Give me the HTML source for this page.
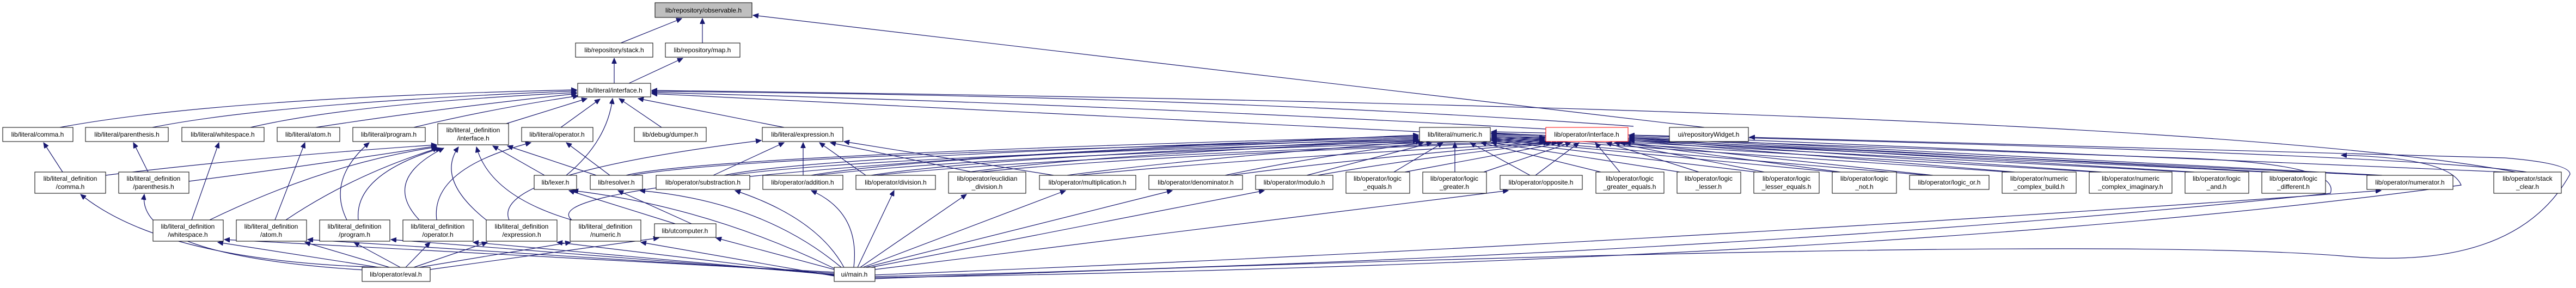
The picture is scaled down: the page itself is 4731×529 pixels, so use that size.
<!DOCTYPE html>
<html><head><meta charset="utf-8"><style>
html,body{margin:0;padding:0;background:#fff;}
svg{display:block}
text{font-family:"Liberation Sans",sans-serif;font-size:12px;fill:#000;text-anchor:middle}
.n{fill:#fff;stroke:#000;stroke-width:1}
.e{fill:none;stroke:#191970;stroke-width:1.2}
</style></head><body>
<svg width="4731" height="529" viewBox="0 0 4731 529" xmlns="http://www.w3.org/2000/svg">
<defs><marker id="a" markerUnits="userSpaceOnUse" markerWidth="11" markerHeight="9" refX="10" refY="4.5" orient="auto"><path d="M0,0 L10,4.5 L0,9 z" fill="#191970" stroke="#191970"/></marker></defs>
<g class="e" marker-end="url(#a)">
<path d="M1140,79 L1252,34"/>
<path d="M1290,79 L1290,34"/>
<path d="M3130,234 L1383,28"/>
<path d="M1128,153 L1128,107"/>
<path d="M1155,153 L1254,107"/>
<path d="M110,234 Q400,180 1059,165"/>
<path d="M280,234 Q500,190 1059,167"/>
<path d="M460,234 Q650,190 1059,170"/>
<path d="M580,234 Q800,200 1059,172"/>
<path d="M760,234 Q900,200 1062,176"/>
<path d="M930,227 L1078,181"/>
<path d="M1030,234 L1102,182"/>
<path d="M1215,234 L1137,181"/>
<path d="M1440,234 L1172,181"/>
<path d="M1040,322 Q1115,260 1125,181"/>
<path d="M2607,242 L1197,172"/>
<path d="M2839,237 Q2000,190 1197,170"/>
<path d="M3000,232 Q2200,175 1197,168"/>
<path d="M4620,316 Q4000,200 1197,166"/>
<path d="M115,316 L80,262"/>
<path d="M272,316 L245,262"/>
<path d="M352,404 L402,262"/>
<path d="M505,404 L560,262"/>
<path d="M637,404 Q600,330 678,262"/>
<path d="M194,322 Q450,290 802,266"/>
<path d="M347,333 Q600,300 802,268"/>
<path d="M385,404 Q600,300 802,270"/>
<path d="M525,404 Q650,320 805,272"/>
<path d="M658,404 Q650,320 810,272"/>
<path d="M770,404 Q700,330 815,272"/>
<path d="M893,404 Q800,330 842,270"/>
<path d="M1050,404 Q900,360 875,270"/>
<path d="M1000,322 L905,268"/>
<path d="M1095,322 L932,268"/>
<path d="M802,404 Q790,310 975,262"/>
<path d="M1120,322 L1040,262"/>
<path d="M935,404 Q900,320 1398,258"/>
<path d="M1050,404 Q950,320 2605,248"/>
<path d="M1150,322 Q1300,285 2605,250"/>
<path d="M1160,322 Q1400,280 2837,252"/>
<path d="M1310,322 L1440,262"/>
<path d="M1330,322 Q1500,285 2605,252"/>
<path d="M1340,322 Q1600,285 2837,254"/>
<path d="M1475,322 L1475,262"/>
<path d="M1490,322 Q1700,285 2605,254"/>
<path d="M1500,322 Q1800,285 2837,256"/>
<path d="M1590,322 L1505,262"/>
<path d="M1600,322 Q1800,290 2605,256"/>
<path d="M1610,322 Q1900,290 2837,258"/>
<path d="M1785,316 L1525,262"/>
<path d="M1780,316 Q2000,285 2605,258"/>
<path d="M1800,316 Q2100,285 2840,260"/>
<path d="M1935,322 L1550,260"/>
<path d="M1960,322 Q2200,290 2610,260"/>
<path d="M1980,322 Q2300,290 2845,262"/>
<path d="M2250,322 Q2400,290 2615,262"/>
<path d="M2260,322 Q2500,290 2850,262"/>
<path d="M2400,322 L2630,262"/>
<path d="M2420,322 Q2600,290 2860,262"/>
<path d="M2560,316 L2650,262"/>
<path d="M2580,316 L2870,262"/>
<path d="M2672,316 L2672,262"/>
<path d="M2725,316 L2885,262"/>
<path d="M2810,322 L2700,262"/>
<path d="M2820,322 L2900,262"/>
<path d="M2940,316 L2720,262"/>
<path d="M2975,316 L2930,262"/>
<path d="M3085,316 L2739,262"/>
<path d="M3120,316 L2950,262"/>
<path d="M3225,316 L2739,258"/>
<path d="M3240,316 L2965,262"/>
<path d="M3370,316 L2739,256"/>
<path d="M3380,316 L2975,262"/>
<path d="M3540,322 L2739,254"/>
<path d="M3550,322 L2985,262"/>
<path d="M3690,316 L2739,252"/>
<path d="M3700,316 L2992,258"/>
<path d="M3850,316 L2739,250"/>
<path d="M3860,316 L2992,256"/>
<path d="M4020,316 L2739,248"/>
<path d="M4030,316 L2992,254"/>
<path d="M4160,316 L2739,246"/>
<path d="M4170,316 L2992,252"/>
<path d="M4360,322 L2739,244"/>
<path d="M4375,322 L2992,250"/>
<path d="M4600,316 L2992,248"/>
<path d="M4640,316 Q4400,280 2739,242"/>
<path d="M1240,411 L1045,350"/>
<path d="M1270,411 L1135,350"/>
<path d="M700,491 Q300,480 148,357"/>
<path d="M670,496 Q250,470 265,357"/>
<path d="M695,491 L400,445"/>
<path d="M715,491 L560,445"/>
<path d="M735,491 L650,445"/>
<path d="M745,491 L790,445"/>
<path d="M760,491 L895,445"/>
<path d="M770,491 L1048,445"/>
<path d="M790,495 L1210,437"/>
<path d="M1532,500 L412,440"/>
<path d="M1532,502 L565,440"/>
<path d="M1532,504 L718,440"/>
<path d="M1532,505 L869,445"/>
<path d="M1532,506 L1023,445"/>
<path d="M1532,507 L1177,445"/>
<path d="M1532,495 L1315,437"/>
<path d="M1532,493 Q1300,380 1052,350"/>
<path d="M1545,491 Q1400,370 1175,350"/>
<path d="M1550,491 Q1500,400 1350,350"/>
<path d="M1568,491 Q1580,390 1490,350"/>
<path d="M1575,491 L1642,350"/>
<path d="M1580,491 L1775,357"/>
<path d="M1585,491 L1957,350"/>
<path d="M1590,491 L2153,350"/>
<path d="M1600,491 L2322,350"/>
<path d="M1607,495 L2770,350"/>
<path d="M1607,505 Q3000,450 4373,350"/>
<path d="M1607,508 Q3200,470 4280,355 Q4300,300 4000,290 L2739,245"/>
<path d="M1607,510 Q3500,480 4520,340 Q4500,290 4300,285"/>
<path d="M1607,512 Q3800,430 4300,470 Q4620,500 4720,320 Q4720,300 4600,290 L3213,252"/>
</g>
<g>
<rect class="n" x="1203" y="5" width="178" height="27" style="fill:#bfbfbf"/><text x="1292" y="23">lib/repository/observable.h</text>
<rect class="n" x="1057" y="79" width="142" height="26"/><text x="1128" y="96">lib/repository/stack.h</text>
<rect class="n" x="1222" y="79" width="137" height="26"/><text x="1290" y="96">lib/repository/map.h</text>
<rect class="n" x="1061" y="153" width="134" height="25"/><text x="1128" y="170">lib/literal/interface.h</text>
<rect class="n" x="5" y="234" width="129" height="26"/><text x="69" y="251">lib/literal/comma.h</text>
<rect class="n" x="157" y="234" width="152" height="26"/><text x="233" y="251">lib/literal/parenthesis.h</text>
<rect class="n" x="334" y="234" width="151" height="26"/><text x="409" y="251">lib/literal/whitespace.h</text>
<rect class="n" x="509" y="234" width="115" height="26"/><text x="566" y="251">lib/literal/atom.h</text>
<rect class="n" x="648" y="234" width="133" height="26"/><text x="714" y="251">lib/literal/program.h</text>
<rect class="n" x="804" y="227" width="130" height="39"/><text x="869" y="243">lib/literal_definition</text><text x="869" y="258">/interface.h</text>
<rect class="n" x="958" y="234" width="131" height="26"/><text x="1023" y="251">lib/literal/operator.h</text>
<rect class="n" x="1165" y="234" width="132" height="26"/><text x="1231" y="251">lib/debug/dumper.h</text>
<rect class="n" x="1400" y="234" width="148" height="26"/><text x="1474" y="251">lib/literal/expression.h</text>
<rect class="n" x="2607" y="234" width="130" height="26"/><text x="2672" y="251">lib/literal/numeric.h</text>
<rect class="n" x="2839" y="234" width="151" height="26" style="stroke:#ff0000"/><text x="2914" y="251">lib/operator/interface.h</text>
<rect class="n" x="3066" y="234" width="145" height="26"/><text x="3138" y="251">ui/repositoryWidget.h</text>
<rect class="n" x="64" y="316" width="130" height="39"/><text x="129" y="332">lib/literal_definition</text><text x="129" y="347">/comma.h</text>
<rect class="n" x="218" y="316" width="129" height="39"/><text x="282" y="332">lib/literal_definition</text><text x="282" y="347">/parenthesis.h</text>
<rect class="n" x="981" y="322" width="78" height="26"/><text x="1020" y="339">lib/lexer.h</text>
<rect class="n" x="1084" y="322" width="96" height="26"/><text x="1132" y="339">lib/resolver.h</text>
<rect class="n" x="1205" y="322" width="172" height="26"/><text x="1291" y="339">lib/operator/substraction.h</text>
<rect class="n" x="1401" y="322" width="147" height="26"/><text x="1474" y="339">lib/operator/addition.h</text>
<rect class="n" x="1572" y="322" width="146" height="26"/><text x="1645" y="339">lib/operator/division.h</text>
<rect class="n" x="1742" y="316" width="142" height="39"/><text x="1813" y="332">lib/operator/euclidian</text><text x="1813" y="347">_division.h</text>
<rect class="n" x="1909" y="322" width="177" height="26"/><text x="1997" y="339">lib/operator/multiplication.h</text>
<rect class="n" x="2110" y="322" width="172" height="26"/><text x="2196" y="339">lib/operator/denominator.h</text>
<rect class="n" x="2306" y="322" width="142" height="26"/><text x="2377" y="339">lib/operator/modulo.h</text>
<rect class="n" x="2472" y="316" width="117" height="39"/><text x="2530" y="332">lib/operator/logic</text><text x="2530" y="347">_equals.h</text>
<rect class="n" x="2613" y="316" width="117" height="39"/><text x="2671" y="332">lib/operator/logic</text><text x="2671" y="347">_greater.h</text>
<rect class="n" x="2755" y="322" width="151" height="26"/><text x="2830" y="339">lib/operator/opposite.h</text>
<rect class="n" x="2931" y="316" width="125" height="39"/><text x="2993" y="332">lib/operator/logic</text><text x="2993" y="347">_greater_equals.h</text>
<rect class="n" x="3080" y="316" width="117" height="39"/><text x="3138" y="332">lib/operator/logic</text><text x="3138" y="347">_lesser.h</text>
<rect class="n" x="3221" y="316" width="120" height="39"/><text x="3281" y="332">lib/operator/logic</text><text x="3281" y="347">_lesser_equals.h</text>
<rect class="n" x="3365" y="316" width="118" height="39"/><text x="3424" y="332">lib/operator/logic</text><text x="3424" y="347">_not.h</text>
<rect class="n" x="3507" y="322" width="146" height="26"/><text x="3580" y="339">lib/operator/logic_or.h</text>
<rect class="n" x="3677" y="316" width="136" height="39"/><text x="3745" y="332">lib/operator/numeric</text><text x="3745" y="347">_complex_build.h</text>
<rect class="n" x="3837" y="316" width="152" height="39"/><text x="3913" y="332">lib/operator/numeric</text><text x="3913" y="347">_complex_imaginary.h</text>
<rect class="n" x="4013" y="316" width="117" height="39"/><text x="4071" y="332">lib/operator/logic</text><text x="4071" y="347">_and.h</text>
<rect class="n" x="4154" y="316" width="117" height="39"/><text x="4212" y="332">lib/operator/logic</text><text x="4212" y="347">_different.h</text>
<rect class="n" x="4347" y="322" width="158" height="26"/><text x="4426" y="339">lib/operator/numerator.h</text>
<rect class="n" x="4580" y="316" width="124" height="39"/><text x="4642" y="332">lib/operator/stack</text><text x="4642" y="347">_clear.h</text>
<rect class="n" x="281" y="404" width="129" height="39"/><text x="345" y="420">lib/literal_definition</text><text x="345" y="435">/whitespace.h</text>
<rect class="n" x="434" y="404" width="129" height="39"/><text x="498" y="420">lib/literal_definition</text><text x="498" y="435">/atom.h</text>
<rect class="n" x="587" y="404" width="129" height="39"/><text x="651" y="420">lib/literal_definition</text><text x="651" y="435">/program.h</text>
<rect class="n" x="740" y="404" width="129" height="39"/><text x="804" y="420">lib/literal_definition</text><text x="804" y="435">/operator.h</text>
<rect class="n" x="893" y="404" width="130" height="39"/><text x="958" y="420">lib/literal_definition</text><text x="958" y="435">/expression.h</text>
<rect class="n" x="1047" y="404" width="130" height="39"/><text x="1112" y="420">lib/literal_definition</text><text x="1112" y="435">/numeric.h</text>
<rect class="n" x="1202" y="411" width="113" height="25"/><text x="1258" y="428">lib/utcomputer.h</text>
<rect class="n" x="665" y="491" width="125" height="26"/><text x="727" y="508">lib/operator/eval.h</text>
<rect class="n" x="1532" y="491" width="75" height="26"/><text x="1569" y="508">ui/main.h</text>
</g>
</svg>
</body></html>
